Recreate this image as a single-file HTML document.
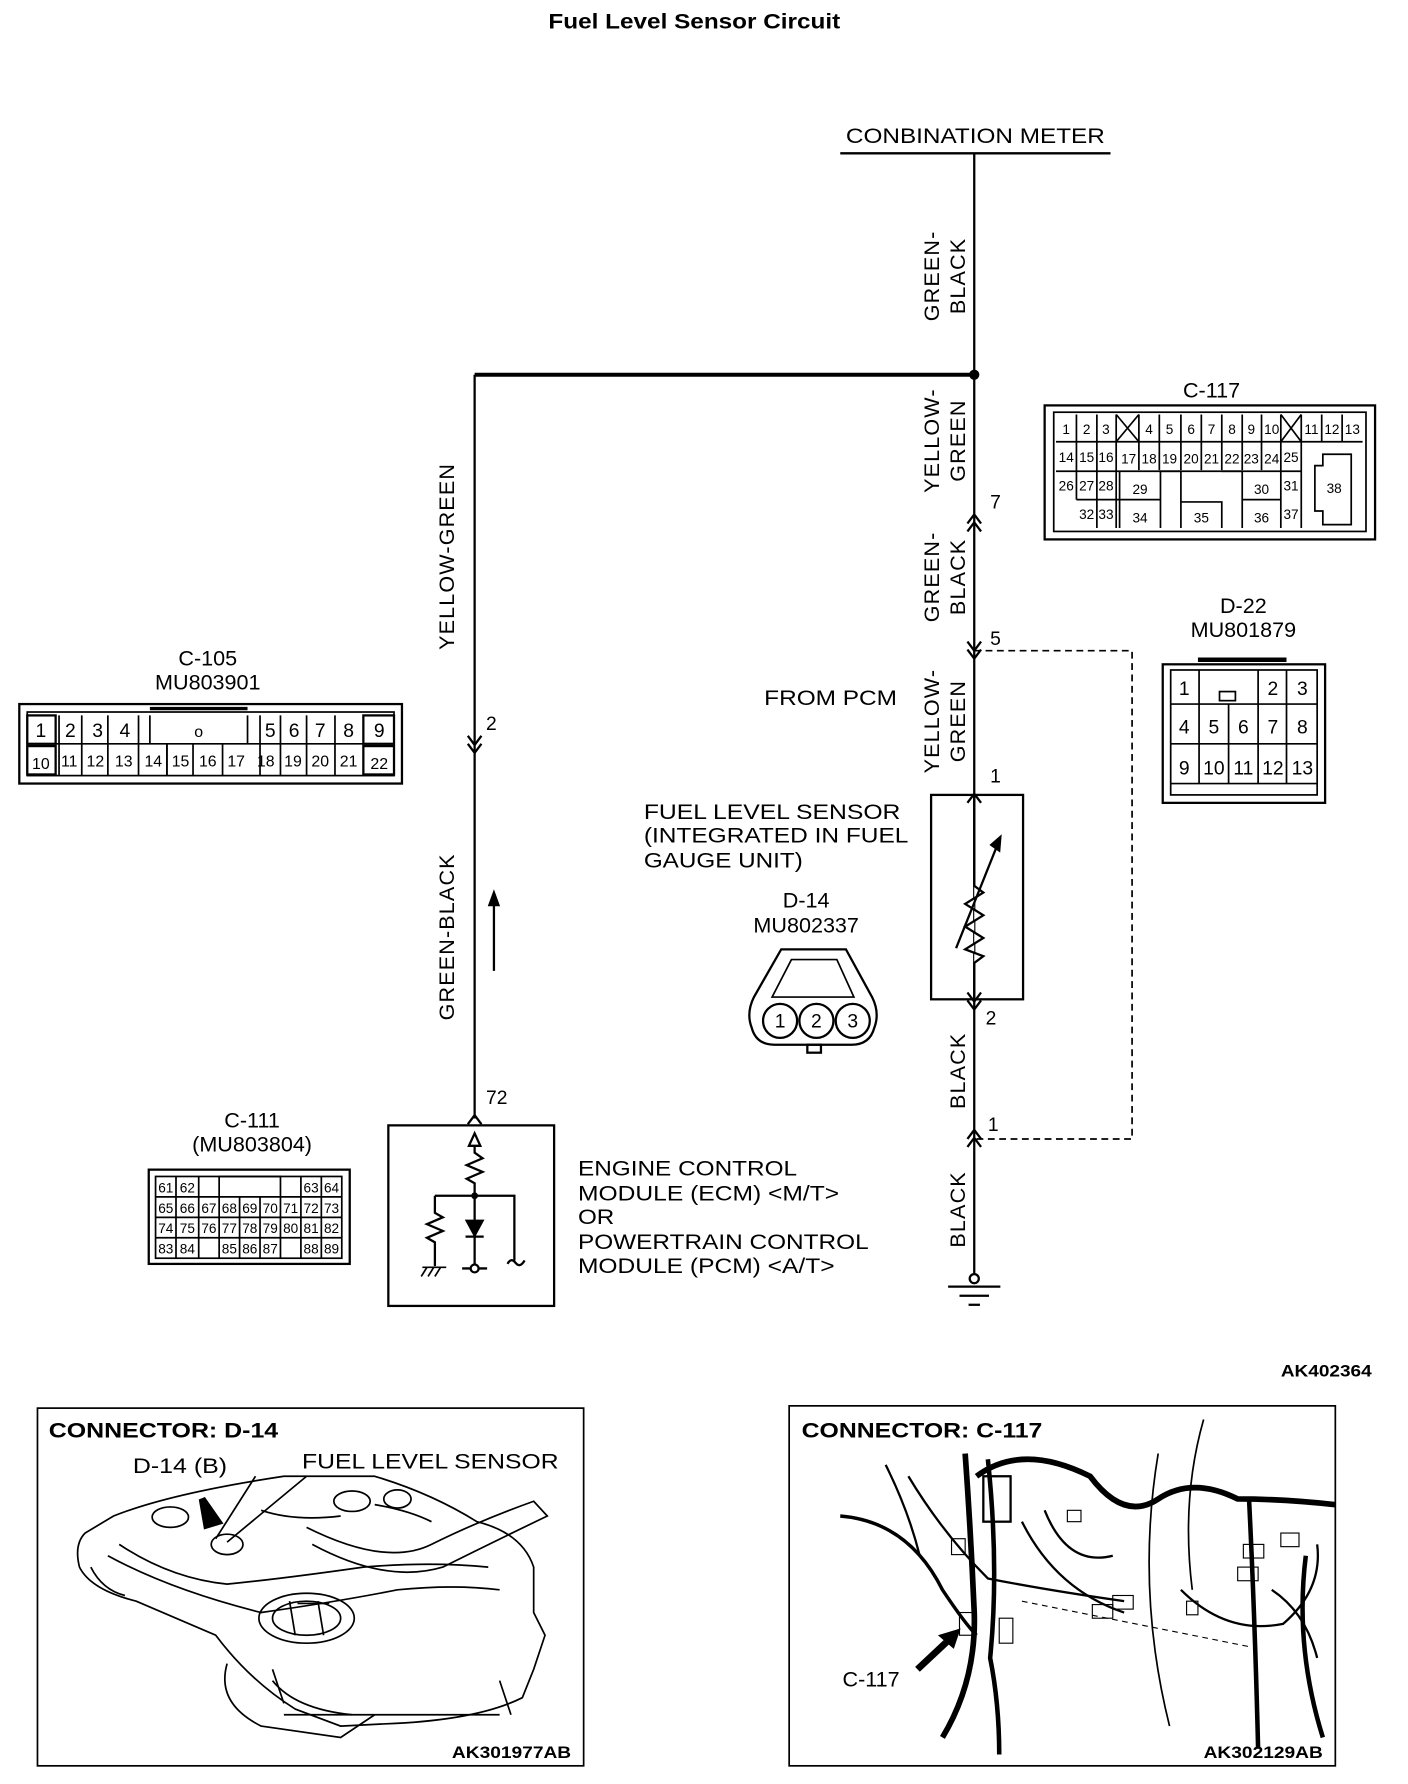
<!DOCTYPE html>
<html><head><meta charset="utf-8"><style>
html,body{margin:0;padding:0;background:#fff;}
svg{display:block;}
text{font-family:"Liberation Sans",Arial,sans-serif;fill:#000;}
.w{font-size:19px;letter-spacing:1px;}
.n{font-size:17px;}
.s{font-size:14px;}
.xs{font-size:12px;}
.b{font-weight:bold;}
</style></head><body>
<svg width="1408" height="1784" viewBox="0 0 1240 1571" preserveAspectRatio="none" xmlns="http://www.w3.org/2000/svg">
<g fill="none" stroke="#000" stroke-width="2">
<line x1="740" y1="135" x2="978" y2="135"/>
<line x1="858" y1="135" x2="858" y2="1130"/>
<line x1="418" y1="330" x2="858" y2="330" stroke-width="3.5"/>
<line x1="418" y1="330" x2="418" y2="985"/>
<path d="M412 648 L418 656 L424 648 M412 655 L418 663 L424 655"/>
<path d="M412 990 L418 982 L424 990"/>
<line x1="435" y1="855" x2="435" y2="790"/>
<path d="M431 797 L435 786 L439 797 Z" fill="#000"/>
<path d="M852 461 L858 453 L864 461 M852 468 L858 460 L864 468"/>
<path d="M852 565 L858 573 L864 565 M852 572 L858 580 L864 572"/>
<path d="M852 707 L858 699 L864 707"/>
<path d="M852 874 L858 882 L864 874 M852 881 L858 889 L864 881"/>
<path d="M852 1003 L858 995 L864 1003 M852 1010 L858 1002 L864 1010"/>
<path d="M858 573 L997 573 L997 1003 L858 1003" stroke-dasharray="6,4" stroke-width="1.5"/>
<rect x="820" y="700" width="81" height="180"/>
<path d="M858 700 L858 780 L866 786 L850 796 L866 806 L850 816 L866 826 L850 836 L866 842 L858 848 L858 880" fill="#fff"/>
<path d="M842 835 L880 740"/>
<path d="M873 744 L881 737 L880 749 Z" fill="#000"/>
<circle cx="858" cy="1126" r="4" fill="#fff"/>
<line x1="835" y1="1133" x2="881" y2="1133"/>
<line x1="845" y1="1141" x2="871" y2="1141"/>
<line x1="853" y1="1149" x2="863" y2="1149"/>
<rect x="342" y="991" width="146" height="159"/>
<path d="M418 1009 L413 1009 L418 998 L423 1009 Z"/>
<path d="M418 1009 L418 1015 L425 1020 L411 1026 L425 1032 L411 1038 L418 1042 L418 1115"/>
<path d="M383 1053 L453 1053 L453 1110"/>
<path d="M383 1053 L383 1068 L390 1072 L376 1078 L390 1084 L376 1090 L383 1094 L383 1115"/>
<path d="M411 1075 L425 1075 L418 1088 Z" fill="#000"/>
<line x1="410" y1="1089" x2="426" y2="1089"/>
<line x1="407" y1="1117" x2="429" y2="1117"/>
<circle cx="418" cy="1117" r="3.5" fill="#fff"/>
<path d="M447 1113 Q450 1107 454 1112 Q458 1117 462 1110"/>
<path d="M372 1116 L393 1116 M376 1116 L371 1124 M382 1116 L377 1124 M388 1116 L383 1124" stroke-width="1.5"/>
</g>
<circle cx="858" cy="330" r="4.5" fill="#000"/>
<circle cx="418" cy="1053" r="3" fill="#000"/>

<text x="483" y="25" class="b" font-size="19" textLength="257" lengthAdjust="spacingAndGlyphs">Fuel Level Sensor Circuit</text>
<text x="745" y="126" font-size="19" textLength="228" lengthAdjust="spacingAndGlyphs">CONBINATION METER</text>
<g class="w" text-anchor="middle">
<text transform="translate(827,243) rotate(-90)">GREEN-</text>
<text transform="translate(850,243) rotate(-90)">BLACK</text>
<text transform="translate(827,388) rotate(-90)">YELLOW-</text>
<text transform="translate(850,388) rotate(-90)">GREEN</text>
<text transform="translate(827,508) rotate(-90)">GREEN-</text>
<text transform="translate(850,508) rotate(-90)">BLACK</text>
<text transform="translate(827,635) rotate(-90)">YELLOW-</text>
<text transform="translate(850,635) rotate(-90)">GREEN</text>
<text transform="translate(850,943) rotate(-90)">BLACK</text>
<text transform="translate(850,1065) rotate(-90)">BLACK</text>
<text transform="translate(400,490) rotate(-90)">YELLOW-GREEN</text>
<text transform="translate(400,825) rotate(-90)">GREEN-BLACK</text>
</g>
<g class="n">
<text x="428" y="643">2</text>
<text x="428" y="972">72</text>
<text x="872" y="448">7</text>
<text x="872" y="568">5</text>
<text x="872" y="689">1</text>
<text x="868" y="902">2</text>
<text x="870" y="996">1</text>
</g>
<g font-size="19" lengthAdjust="spacingAndGlyphs">
<text x="673" y="621" textLength="117" lengthAdjust="spacingAndGlyphs">FROM PCM</text>
<text x="567" y="721" textLength="226" lengthAdjust="spacingAndGlyphs">FUEL LEVEL SENSOR</text>
<text x="567" y="742" textLength="233" lengthAdjust="spacingAndGlyphs">(INTEGRATED IN FUEL</text>
<text x="567" y="764" textLength="140" lengthAdjust="spacingAndGlyphs">GAUGE UNIT)</text>
<text x="710" y="799" text-anchor="middle">D-14</text>
<text x="710" y="821" text-anchor="middle">MU802337</text>
<text x="509" y="1035" textLength="193" lengthAdjust="spacingAndGlyphs">ENGINE CONTROL</text>
<text x="509" y="1057" textLength="230" lengthAdjust="spacingAndGlyphs">MODULE (ECM) &lt;M/T&gt;</text>
<text x="509" y="1078" textLength="32" lengthAdjust="spacingAndGlyphs">OR</text>
<text x="509" y="1100" textLength="256" lengthAdjust="spacingAndGlyphs">POWERTRAIN CONTROL</text>
<text x="509" y="1121" textLength="226" lengthAdjust="spacingAndGlyphs">MODULE (PCM) &lt;A/T&gt;</text>
<text x="222" y="993" text-anchor="middle">C-111</text>
<text x="222" y="1014" text-anchor="middle">(MU803804)</text>
<text x="183" y="586" text-anchor="middle">C-105</text>
<text x="183" y="607" text-anchor="middle">MU803901</text>
<text x="1067" y="350" text-anchor="middle">C-117</text>
<text x="1095" y="540" text-anchor="middle">D-22</text>
<text x="1095" y="561" text-anchor="middle">MU801879</text>
</g>

<g fill="none" stroke="#000" stroke-width="2">
<path d="M688 836 L745 836 L768 878 Q775 892 770 905 Q766 920 750 920 L682 920 Q666 920 662 905 Q657 892 664 878 Z"/>
<path d="M697 845 L737 845 L752 878 L680 878 Z" stroke-width="1.5"/>
<rect x="711" y="920" width="12" height="7"/>
<circle cx="687" cy="899" r="15"/><circle cx="719" cy="899" r="15"/><circle cx="751" cy="899" r="15"/>
</g>
<g class="n" text-anchor="middle"><text x="687" y="905">1</text><text x="719" y="905">2</text><text x="751" y="905">3</text></g>

<g fill="none" stroke="#000" stroke-width="1.5">
<rect x="17" y="620" width="337" height="70" stroke-width="2"/>
<rect x="24" y="627" width="323" height="56"/>
<line x1="132" y1="624" x2="218" y2="624" stroke-width="3"/>
<line x1="49" y1="655" x2="320" y2="655"/>
<rect x="24" y="630" width="25" height="25" stroke-width="2"/><rect x="24" y="657" width="25" height="25" stroke-width="2"/>
<rect x="320" y="630" width="27" height="25" stroke-width="2"/><rect x="320" y="657" width="27" height="25" stroke-width="2"/>
<path d="M72 630 V683 M95 630 V683 M122 630 V683 M132 630 V655 M218 630 V655 M229 630 V683 M247 630 V683 M270 630 V683 M295 630 V683 M147 655 V683 M170 655 V683 M196 655 V683"/>
<path d="M52 630 V683 M147 655 V683"/>
</g>
<g class="n" text-anchor="middle">
<text x="36" y="649">1</text><text x="62" y="649">2</text><text x="86" y="649">3</text><text x="110" y="649">4</text><text x="175" y="649" font-size="14">o</text><text x="238" y="649">5</text><text x="259" y="649">6</text><text x="282" y="649">7</text><text x="307" y="649">8</text><text x="334" y="649">9</text>
</g>
<g class="s" text-anchor="middle">
<text x="36" y="677">10</text><text x="61" y="675">11</text><text x="84" y="675">12</text><text x="109" y="675">13</text><text x="135" y="675">14</text><text x="159" y="675">15</text><text x="183" y="675">16</text><text x="208" y="675">17</text><text x="234" y="675">18</text><text x="258" y="675">19</text><text x="282" y="675">20</text><text x="307" y="675">21</text><text x="334" y="677">22</text>
</g>

<g fill="none" stroke="#000" stroke-width="1.5">
<rect x="920" y="357" width="291" height="118" stroke-width="2"/>
<rect x="928" y="363" width="275" height="105"/>
<line x1="930" y1="389" x2="1200" y2="389"/>
<line x1="930" y1="415" x2="1146" y2="415"/>
<path d="M948 365 V440 M966 365 V465 M983 365 V465 M1003 365 V389 M1021 365 V414 M1040 365 V414 M1058 365 V414 M1076 365 V414 M1094 365 V414 M1111 365 V414 M1128 365 V465 M1146 365 V465 M1164 365 V389 M1182 365 V389 M1003 389 V414 M986 415 V465 M1022 415 V465 M1094 415 V465 M1040 415 V465"/>
<path d="M983 365 L1003 389 M1003 365 L983 389 M1128 365 L1146 389 M1146 365 L1128 389"/>
<path d="M986 440 H1022 M1094 440 H1128 M948 440 H986 M1040 442 H1076 V465 M1022 415 H1040 M1076 415 H1094"/>
<path d="M1165 400 H1190 V462 H1165 V450 H1158 V410 H1165 Z"/>
</g>
<g class="xs" text-anchor="middle">
<text x="939" y="382">1</text><text x="957" y="382">2</text><text x="974" y="382">3</text><text x="1012" y="382">4</text><text x="1030" y="382">5</text><text x="1049" y="382">6</text><text x="1067" y="382">7</text><text x="1085" y="382">8</text><text x="1102" y="382">9</text><text x="1120" y="382">10</text><text x="1155" y="382">11</text><text x="1173" y="382">12</text><text x="1191" y="382">13</text>
<text x="939" y="407">14</text><text x="957" y="407">15</text><text x="974" y="407">16</text><text x="994" y="408">17</text><text x="1012" y="408">18</text><text x="1030" y="408">19</text><text x="1049" y="408">20</text><text x="1067" y="408">21</text><text x="1085" y="408">22</text><text x="1102" y="408">23</text><text x="1120" y="408">24</text><text x="1137" y="407">25</text>
<text x="939" y="432">26</text><text x="957" y="432">27</text><text x="974" y="432">28</text><text x="1004" y="435">29</text><text x="1111" y="435">30</text><text x="1137" y="432">31</text><text x="1175" y="434">38</text>
<text x="957" y="457">32</text><text x="974" y="457">33</text><text x="1004" y="460">34</text><text x="1058" y="460">35</text><text x="1111" y="460">36</text><text x="1137" y="457">37</text>
</g>

<g fill="none" stroke="#000" stroke-width="1.5">
<rect x="1024" y="585" width="143" height="122" stroke-width="2"/>
<line x1="1055" y1="581" x2="1133" y2="581" stroke-width="4"/>
<rect x="1031" y="590" width="129" height="110"/>
<path d="M1031 620 H1160 M1031 655 H1160 M1031 690 H1160 M1056 590 V620 M1108 590 V620 M1133 590 V690 M1056 620 V690 M1082 620 V690 M1108 620 V690"/>
<rect x="1074" y="609" width="14" height="8"/>
</g>
<g class="n" text-anchor="middle">
<text x="1043" y="612">1</text><text x="1121" y="612">2</text><text x="1147" y="612">3</text>
<text x="1043" y="646">4</text><text x="1069" y="646">5</text><text x="1095" y="646">6</text><text x="1121" y="646">7</text><text x="1147" y="646">8</text>
<text x="1043" y="682">9</text><text x="1069" y="682">10</text><text x="1095" y="682">11</text><text x="1121" y="682">12</text><text x="1147" y="682">13</text>
</g>

<g fill="none" stroke="#000" stroke-width="1.5">
<rect x="131" y="1030" width="177" height="83" stroke-width="2"/>
<rect x="137" y="1036" width="164" height="72"/>
<path d="M137 1054 H301 M137 1072 H301 M137 1090 H301 M193 1036 H247 V1054 M193 1036 V1054"/>
<path d="M155 1036 V1108 M175 1036 V1108 M193 1054 V1108 M211 1054 V1108 M229 1054 V1108 M247 1054 V1108 M265 1036 V1108 M283 1036 V1108"/>
</g>
<g class="xs" text-anchor="middle">
<text x="146" y="1050">61</text><text x="165" y="1050">62</text><text x="274" y="1050">63</text><text x="292" y="1050">64</text>
<text x="146" y="1068">65</text><text x="165" y="1068">66</text><text x="184" y="1068">67</text><text x="202" y="1068">68</text><text x="220" y="1068">69</text><text x="238" y="1068">70</text><text x="256" y="1068">71</text><text x="274" y="1068">72</text><text x="292" y="1068">73</text>
<text x="146" y="1086">74</text><text x="165" y="1086">75</text><text x="184" y="1086">76</text><text x="202" y="1086">77</text><text x="220" y="1086">78</text><text x="238" y="1086">79</text><text x="256" y="1086">80</text><text x="274" y="1086">81</text><text x="292" y="1086">82</text>
<text x="146" y="1104">83</text><text x="165" y="1104">84</text><text x="202" y="1104">85</text><text x="220" y="1104">86</text><text x="238" y="1104">87</text><text x="274" y="1104">88</text><text x="292" y="1104">89</text>
</g>

<text x="1208" y="1212" text-anchor="end" class="b" font-size="15" textLength="80" lengthAdjust="spacingAndGlyphs">AK402364</text>

<rect x="33" y="1240" width="481" height="315" fill="none" stroke="#000" stroke-width="1.5"/>
<text x="43" y="1266" class="b" font-size="19" textLength="202" lengthAdjust="spacingAndGlyphs">CONNECTOR: D-14</text>
<text x="117" y="1297" font-size="19" textLength="83" lengthAdjust="spacingAndGlyphs">D-14 (B)</text>
<text x="266" y="1293" font-size="19" textLength="226" lengthAdjust="spacingAndGlyphs">FUEL LEVEL SENSOR</text>
<text x="503" y="1548" text-anchor="end" class="b" font-size="15" textLength="105" lengthAdjust="spacingAndGlyphs">AK301977AB</text>
<g fill="none" stroke="#000" stroke-width="1.5">
<path d="M100 1335 Q150 1315 250 1300 L330 1300 Q380 1315 420 1340 Q460 1350 470 1380 L470 1420 L480 1440 L470 1470 L460 1495 Q420 1515 340 1518 L300 1520 L260 1505 Q220 1480 190 1440 L120 1410 Q80 1400 70 1380 Q65 1360 75 1350 Z"/>
<path d="M80 1380 Q90 1400 110 1405 M95 1370 Q150 1400 230 1420 Q300 1410 350 1400 Q400 1395 440 1400"/>
<path d="M105 1360 Q150 1390 200 1395 Q250 1390 320 1380 Q380 1375 430 1380"/>
<path d="M200 1465 Q190 1500 230 1520 L300 1530 L330 1510 M240 1480 Q260 1505 310 1510"/>
<path d="M240 1470 L250 1500 M440 1480 L450 1510 M250 1510 L440 1510"/>
<ellipse cx="270" cy="1425" rx="42" ry="22"/>
<ellipse cx="270" cy="1425" rx="30" ry="15"/>
<ellipse cx="200" cy="1360" rx="14" ry="9"/>
<ellipse cx="150" cy="1336" rx="16" ry="9"/>
<ellipse cx="310" cy="1322" rx="16" ry="9"/>
<ellipse cx="350" cy="1320" rx="12" ry="8"/>
<path d="M270 1345 Q340 1380 380 1360 Q420 1340 470 1322 L482 1335 Q430 1360 390 1380 Q340 1395 275 1360"/>
<path d="M225 1300 L190 1355 M270 1300 L200 1358"/>
<path d="M330 1325 Q360 1330 380 1340 M230 1330 Q260 1340 300 1335"/>
<path d="M255 1410 L260 1440 M280 1410 L285 1440 M262 1412 H290"/>
</g>
<path d="M178 1320 L192 1340 L182 1343 Z" fill="#000" stroke="#000" stroke-width="6"/>

<rect x="695" y="1238" width="481" height="317" fill="none" stroke="#000" stroke-width="1.5"/>
<text x="706" y="1266" class="b" font-size="19" textLength="212" lengthAdjust="spacingAndGlyphs">CONNECTOR: C-117</text>
<text x="742" y="1485" font-size="19">C-117</text>
<text x="1165" y="1548" text-anchor="end" class="b" font-size="15" textLength="105" lengthAdjust="spacingAndGlyphs">AK302129AB</text>
<g fill="none" stroke="#000">
<path d="M850 1280 Q855 1350 858 1420 Q860 1480 830 1530" stroke-width="5"/>
<path d="M870 1285 Q880 1380 872 1460 Q880 1500 880 1545" stroke-width="4"/>
<path d="M860 1300 Q900 1270 960 1300 Q990 1340 1020 1320 Q1050 1300 1090 1320 Q1130 1320 1176 1325" stroke-width="5"/>
<path d="M1100 1320 Q1105 1420 1108 1540" stroke-width="4"/>
<path d="M740 1335 Q800 1340 830 1400 Q850 1430 860 1440" stroke-width="3"/>
<path d="M800 1300 Q830 1350 870 1390 Q920 1400 990 1410" stroke-width="2"/>
<path d="M900 1340 Q930 1400 990 1420" stroke-width="2"/>
<path d="M920 1330 Q940 1380 980 1370" stroke-width="2"/>
<path d="M780 1290 Q800 1330 810 1370" stroke-width="2"/>
<path d="M1040 1400 Q1080 1440 1130 1430 Q1165 1400 1160 1360" stroke-width="2"/>
<path d="M1020 1280 Q1000 1400 1030 1520" stroke-width="1.5"/>
<path d="M1060 1250 Q1040 1320 1050 1400" stroke-width="1.5"/>
<path d="M1150 1370 Q1140 1450 1165 1530" stroke-width="4"/>
<path d="M1120 1400 Q1150 1420 1160 1460" stroke-width="2"/>
<path d="M900 1410 L1100 1450" stroke-width="1" stroke-dasharray="5,4"/>
<rect x="866" y="1300" width="24" height="40" stroke-width="2"/>
<rect x="1095" y="1360" width="18" height="12"/><rect x="1090" y="1380" width="18" height="12"/>
<rect x="962" y="1413" width="18" height="12"/><rect x="980" y="1405" width="18" height="12"/>
<rect x="1128" y="1350" width="16" height="12"/><rect x="838" y="1355" width="12" height="14"/>
<rect x="845" y="1420" width="14" height="20"/><rect x="880" y="1425" width="12" height="22"/>
<rect x="940" y="1330" width="12" height="10"/><rect x="1045" y="1410" width="10" height="12"/>
</g>
<path d="M808 1470 L840 1440" stroke="#000" stroke-width="6"/>
<path d="M846 1434 L826 1440 L840 1452 Z" fill="#000"/>
</svg>
</body></html>
